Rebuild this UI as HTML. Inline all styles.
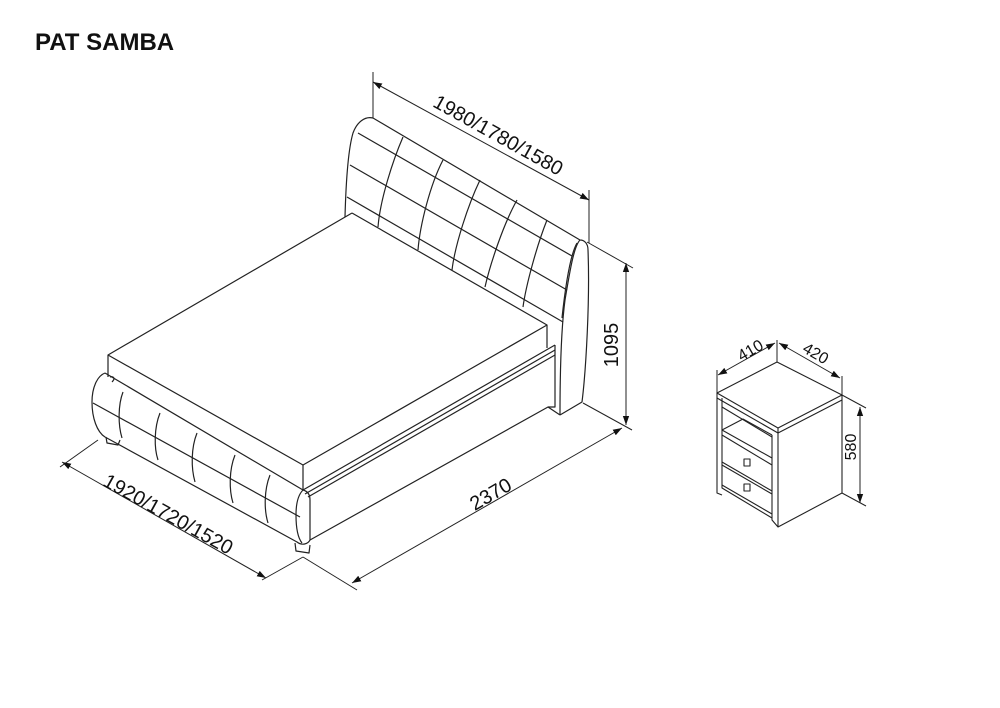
<!DOCTYPE html>
<html><head><meta charset="utf-8"><style>
html,body{margin:0;padding:0;background:#fff;}
svg{display:block;}
text{font-family:"Liberation Sans",Arial,sans-serif;fill:#111;}
</style></head><body>
<svg width="1000" height="708" viewBox="0 0 1000 708" xmlns="http://www.w3.org/2000/svg">
<defs>
<marker id="a" viewBox="0 0 10 10" refX="10" refY="5" markerWidth="9" markerHeight="9" orient="auto-start-reverse" markerUnits="userSpaceOnUse">
<path d="M0,1.5 L10,5 L0,8.5 z" fill="#111"/></marker>
</defs>
<text x="35" y="50" font-size="24" font-weight="bold">PAT SAMBA</text>

<g fill="none" stroke="#222" stroke-width="1.2" stroke-linejoin="round">
<path d="M345,217 C346,180 348,150 353,133 C357,122 365,116 373,118 L580,240 C584,240 588,243 588,250 C590,300 586,370 582,402 L560,415"/>
<path d="M580,240 C574,246 570,270 565,300 C561,330 560,380 560,415"/>
<path d="M577,243 C570,255 565,290 562,318"/>
<path d="M358,133 L572,256"/>
<path d="M350,165 L567,290"/>
<path d="M347,197 L563,322"/>
<path d="M403,137 C393,160 380,200 378,227"/>
<path d="M443,160 C430,185 420,225 418,250"/>
<path d="M480,180 C468,205 455,245 452,270"/>
<path d="M517,200 C503,225 490,265 485,287"/>
<path d="M547,220 C537,245 526,285 523,307"/>
<path d="M352,213 L547,325 L547,348"/>
<path d="M352,213 L108,355 L108,377"/>
<path d="M108,355 L303,465 L547,325"/>
<path d="M303,465 L303,490"/>
<path d="M303,490 L555,345"/>
<path d="M305,494 L555,350"/>
<path d="M308,497 L555,355"/>
<path d="M555,345 L555,407 L548,407"/>
<path d="M310,540 L548,407 L560,415"/>
<path d="M105,373 L303,490"/>
<path d="M105,373 C97,376 92,388 92,402 C92,418 97,432 105,437 L297,542 C302,546 308,544 310,540 L310,500 C310,494 307,491 303,490 C298,495 296,505 296,515 C296,528 298,538 302,543"/>
<path d="M93,403 L300,517"/>
<path d="M110,377 C113,376 116,378 112,382"/>
<path d="M123,392 C118,405 118,425 122,438"/>
<path d="M160,413 C154,428 154,448 158,460"/>
<path d="M197,433 C191,448 191,468 195,482"/>
<path d="M235,455 C229,470 229,490 233,503"/>
<path d="M270,475 C264,490 264,510 268,523"/>
<path d="M106,437 L107,443 L118,445 L120,440"/>
<path d="M295,543 L296,551 L309,553 L310,545"/>
</g>

<g fill="none" stroke="#222" stroke-width="1">
<path d="M373,72 L373,118"/>
<path d="M589,190 L589,243"/>
<path d="M373,82 L589,200" marker-start="url(#a)" marker-end="url(#a)"/>
<path d="M587,242 L633,268"/>
<path d="M583,403 L632,430"/>
<path d="M626,263 L626,425" marker-start="url(#a)" marker-end="url(#a)"/>
<path d="M303,557 L357,590"/>
<path d="M303,557 L262,580"/>
<path d="M352,583 L622,428" marker-start="url(#a)" marker-end="url(#a)"/>
<path d="M60,467 L98,440"/>
<path d="M62,462 L266,578" marker-start="url(#a)" marker-end="url(#a)"/>
</g>
<text font-size="20" transform="translate(495,141) rotate(29)" text-anchor="middle">1980/1780/1580</text>
<text font-size="20" transform="translate(618,345) rotate(-90)" text-anchor="middle">1095</text>
<text font-size="20" transform="translate(494,500) rotate(-30)" text-anchor="middle">2370</text>
<text font-size="20" transform="translate(165,520) rotate(29)" text-anchor="middle">1920/1720/1520</text>

<g fill="none" stroke="#222" stroke-width="1.1" stroke-linejoin="round">
<path d="M717,393 L777,362 L842,395 L778,428 Z"/>
<path d="M717,398 L778,433 L842,400"/>
<path d="M717,393 L717,493 L722,495"/>
<path d="M778,428 L778,527 L842,493 L842,395"/>
<path d="M722,398 L722,488 L772,518"/>
<path d="M772,435 L772,520 L778,527"/>
<path d="M722,407 L772,437"/>
<path d="M722,430 L772,458"/>
<path d="M722,430 L743,419 L772,435"/>
<path d="M722,435 L772,465"/>
<path d="M722,462 L772,491"/>
<path d="M722,465 L772,494"/>
<path d="M722,485 L772,514"/>
<rect x="744" y="459" width="6" height="7"/>
<rect x="744" y="484" width="6" height="7"/>
</g>
<g fill="none" stroke="#222" stroke-width="1">
<path d="M717,370 L717,393"/>
<path d="M777,340 L777,362"/>
<path d="M842,376 L842,395"/>
<path d="M718,375 L775,343" marker-start="url(#a)" marker-end="url(#a)"/>
<path d="M779,343 L840,378" marker-start="url(#a)" marker-end="url(#a)"/>
<path d="M842,395 L866,408"/>
<path d="M842,493 L866,506"/>
<path d="M860,407 L860,503" marker-start="url(#a)" marker-end="url(#a)"/>
</g>
<text font-size="16" transform="translate(753,355) rotate(-30)" text-anchor="middle">410</text>
<text font-size="16" transform="translate(813,358) rotate(30)" text-anchor="middle">420</text>
<text font-size="16" transform="translate(856,447) rotate(-90)" text-anchor="middle">580</text>
</svg>
</body></html>
